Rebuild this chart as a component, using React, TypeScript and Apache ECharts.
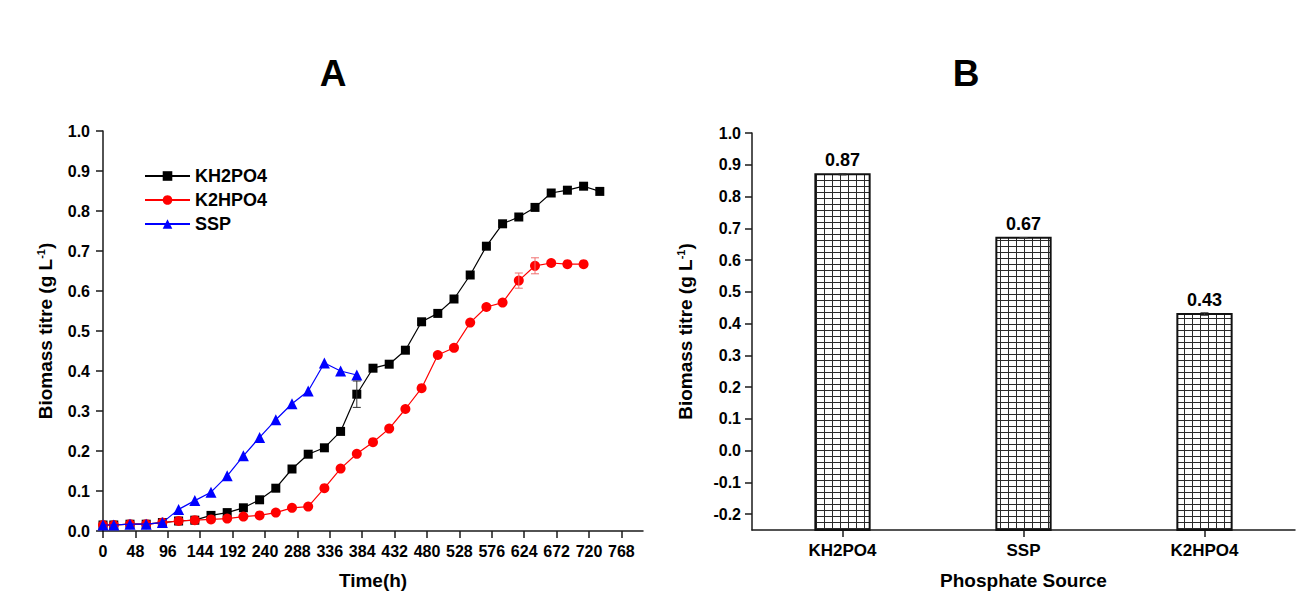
import { useEffect, useRef } from 'react';
import * as echarts from 'echarts';

// ---- Panel A: biomass titre over time ----
const hoursKH = [0, 16, 40, 64, 88, 112, 136, 160, 184, 208, 232, 256, 280, 304, 328, 352, 376, 400, 424, 448, 472, 496, 520, 544, 568, 592, 616, 640, 664, 688, 712, 736];
const valuesKH = [0.015, 0.015, 0.017, 0.017, 0.021, 0.025, 0.027, 0.039, 0.046, 0.058, 0.078, 0.107, 0.155, 0.192, 0.208, 0.249, 0.342, 0.407, 0.417, 0.452, 0.523, 0.544, 0.580, 0.640, 0.712, 0.768, 0.785, 0.809, 0.845, 0.852, 0.862, 0.849];

const hoursK2 = [0, 16, 40, 64, 88, 112, 136, 160, 184, 208, 232, 256, 280, 304, 328, 352, 376, 400, 424, 448, 472, 496, 520, 544, 568, 592, 616, 640, 664, 688, 712];
const valuesK2 = [0.015, 0.015, 0.017, 0.017, 0.021, 0.025, 0.027, 0.029, 0.031, 0.036, 0.039, 0.046, 0.058, 0.061, 0.107, 0.156, 0.193, 0.222, 0.256, 0.305, 0.357, 0.440, 0.458, 0.521, 0.560, 0.571, 0.626, 0.663, 0.670, 0.667, 0.667];

const hoursSSP = [0, 16, 40, 64, 88, 112, 136, 160, 184, 208, 232, 256, 280, 304, 328, 352, 376];
const valuesSSP = [0.015, 0.015, 0.017, 0.017, 0.021, 0.054, 0.076, 0.097, 0.138, 0.188, 0.234, 0.278, 0.318, 0.350, 0.420, 0.400, 0.390];

// standard deviations shown as error bars (hour, deviation)
const errHoursKH = [376];
const errValuesKH = [0.033];
const errHoursK2 = [616, 640];
const errValuesK2 = [0.019, 0.02];

const xTicksA = [0, 48, 96, 144, 192, 240, 288, 336, 384, 432, 480, 528, 576, 624, 672, 720, 768];

// ---- Panel B: final biomass per phosphate source ----
const sources = ['KH2PO4', 'SSP', 'K2HPO4'];
const finalBiomass = [0.87, 0.67, 0.43];
const finalErr = [0.002, 0.001, 0.004];
const yTicksB = [-0.2, -0.1, 0.0, 0.1, 0.2, 0.3, 0.4, 0.5, 0.6, 0.7, 0.8, 0.9, 1.0];
const yMinB = -0.25;

const FONT = 'Arial, "Liberation Sans", Helvetica, sans-serif';
const AXIS_COLOR = '#1a1a1a';

function gridPattern(): HTMLCanvasElement {
  const c = document.createElement('canvas');
  c.width = 8;
  c.height = 6;
  const ctx = c.getContext('2d')!;
  ctx.fillStyle = '#ffffff';
  ctx.fillRect(0, 0, 8, 6);
  ctx.fillStyle = '#2a2a2a';
  ctx.fillRect(0, 0, 8, 1);
  ctx.fillRect(0, 0, 1, 6);
  return c;
}

function pairs(xs: number[], ys: number[]) {
  return xs.map((x, i) => [x, ys[i]]);
}

function errData(errHours: number[], errVals: number[], hours: number[], vals: number[]) {
  return errHours.map((h, i) => [h, vals[hours.indexOf(h)], errVals[i]]);
}

function errorBarSeries(name: string, data: number[][], color: string) {
  return {
    type: 'custom',
    name,
    xAxisIndex: 0,
    yAxisIndex: 0,
    z: 5,
    silent: true,
    data,
    renderItem: (_p: any, api: any) => {
      const x = api.value(0);
      const m = api.value(1);
      const e = api.value(2);
      const top = api.coord([x, m + e]);
      const bot = api.coord([x, m - e]);
      const half = 4;
      const style = { stroke: color, lineWidth: 1 };
      return {
        type: 'group',
        children: [
          { type: 'line', shape: { x1: top[0], y1: top[1], x2: bot[0], y2: bot[1] }, style },
          { type: 'line', shape: { x1: top[0] - half, y1: top[1], x2: top[0] + half, y2: top[1] }, style },
          { type: 'line', shape: { x1: bot[0] - half, y1: bot[1], x2: bot[0] + half, y2: bot[1] }, style },
        ],
      };
    },
  };
}

const axisLineStyle = { show: true, onZero: false, lineStyle: { color: AXIS_COLOR, width: 1.5 } };
const axisTickStyle = { show: true, length: 7, lineStyle: { color: AXIS_COLOR, width: 1.5 } };
const labelStyle = { color: '#000', fontFamily: FONT, fontWeight: 'bold' as const, fontSize: 16 };
const nameStyle = {
  color: '#000',
  fontFamily: FONT,
  fontWeight: 'bold' as const,
  fontSize: 19,
  rich: {
    sup: { fontFamily: FONT, fontWeight: 'bold' as const, fontSize: 11, color: '#000', verticalAlign: 'top' as const, padding: [0, 0, 9, 0] },
  },
};

export default function App() {
  const ref = useRef<HTMLDivElement>(null);

  useEffect(() => {
    if (!ref.current) return;
    const chart = echarts.init(ref.current, undefined, { renderer: 'svg' });
    const pattern = gridPattern();

    const option: any = {
      animation: false,
      backgroundColor: '#ffffff',
      graphic: [
        { type: 'text', x: 333, y: 73, style: { text: 'A', font: `bold 37px ${FONT}`, fill: '#000', align: 'center', verticalAlign: 'middle' } },
        { type: 'text', x: 966, y: 73, style: { text: 'B', font: `bold 37px ${FONT}`, fill: '#000', align: 'center', verticalAlign: 'middle' } },
      ],
      legend: {
        data: ['KH2PO4', 'K2HPO4', 'SSP'],
        orient: 'vertical',
        left: 144,
        top: 167,
        padding: 0,
        itemWidth: 45,
        itemHeight: 12,
        itemGap: 6,
        selectedMode: false,
        textStyle: { color: '#000', fontFamily: FONT, fontWeight: 'bold', fontSize: 18 },
      },
      grid: [
        { left: 103, top: 131, width: 540, height: 400, containLabel: false },
        { left: 752, top: 133, width: 543, height: 398, containLabel: false },
      ],
      xAxis: [
        {
          type: 'value',
          gridIndex: 0,
          min: 0,
          max: 800,
          interval: 48,
          name: 'Time(h)',
          nameLocation: 'middle',
          nameGap: 40,
          nameTextStyle: nameStyle,
          axisLine: axisLineStyle,
          axisTick: { ...axisTickStyle, customValues: xTicksA },
          axisLabel: { ...labelStyle, margin: 12, customValues: xTicksA },
          splitLine: { show: false },
        },
        {
          type: 'category',
          gridIndex: 1,
          data: sources,
          boundaryGap: true,
          name: 'Phosphate Source',
          nameLocation: 'middle',
          nameGap: 41,
          nameTextStyle: nameStyle,
          axisLine: axisLineStyle,
          axisTick: { ...axisTickStyle, alignWithLabel: true },
          axisLabel: { ...labelStyle, fontSize: 17, margin: 12 },
          splitLine: { show: false },
        },
      ],
      yAxis: [
        {
          type: 'value',
          gridIndex: 0,
          min: 0,
          max: 1.0,
          interval: 0.1,
          name: 'Biomass titre (g L{sup|-1})',
          nameLocation: 'middle',
          nameGap: 48,
          nameTextStyle: nameStyle,
          axisLine: axisLineStyle,
          axisTick: axisTickStyle,
          axisLabel: { ...labelStyle, margin: 13, formatter: (v: number) => v.toFixed(1) },
          splitLine: { show: false },
        },
        {
          type: 'value',
          gridIndex: 1,
          min: yMinB,
          max: 1.0,
          name: 'Biomass titre (g L{sup|-1})',
          nameLocation: 'middle',
          nameGap: 57,
          nameTextStyle: nameStyle,
          axisLine: axisLineStyle,
          axisTick: { ...axisTickStyle, customValues: yTicksB },
          axisLabel: { ...labelStyle, margin: 11, customValues: yTicksB, formatter: (v: number) => (Math.abs(v) < 1e-9 ? '0.0' : v.toFixed(1)) },
          splitLine: { show: false },
        },
      ],
      series: [
        {
          type: 'line',
          name: 'KH2PO4',
          xAxisIndex: 0,
          yAxisIndex: 0,
          data: pairs(hoursKH, valuesKH),
          symbol: 'rect',
          symbolSize: 9,
          itemStyle: { color: '#000000' },
          lineStyle: { color: '#000000', width: 1.2 },
          z: 2,
        },
        {
          type: 'line',
          name: 'K2HPO4',
          xAxisIndex: 0,
          yAxisIndex: 0,
          data: pairs(hoursK2, valuesK2),
          symbol: 'circle',
          symbolSize: 10,
          itemStyle: { color: '#ff0000' },
          lineStyle: { color: '#ff0000', width: 1.2 },
          z: 3,
        },
        {
          type: 'line',
          name: 'SSP',
          xAxisIndex: 0,
          yAxisIndex: 0,
          data: pairs(hoursSSP, valuesSSP),
          symbol: 'triangle',
          symbolSize: 11,
          itemStyle: { color: '#0000ff' },
          lineStyle: { color: '#0000ff', width: 1.2 },
          z: 4,
        },
        errorBarSeries('KH2PO4 sd', errData(errHoursKH, errValuesKH, hoursKH, valuesKH), '#333333'),
        errorBarSeries('K2HPO4 sd', errData(errHoursK2, errValuesK2, hoursK2, valuesK2), '#f07070'),
        {
          type: 'custom',
          name: 'Final biomass',
          xAxisIndex: 1,
          yAxisIndex: 1,
          silent: true,
          data: sources.map((_, i) => [i, finalBiomass[i], finalErr[i]]),
          renderItem: (_p: any, api: any) => {
            const idx = api.value(0);
            const v = api.value(1);
            const e = api.value(2);
            const top = api.coord([idx, v]);
            const base = api.coord([idx, yMinB]);
            const bw = api.size([1, 0])[0] * 0.3;
            const eTop = api.coord([idx, v + e]);
            const eBot = api.coord([idx, v - e]);
            return {
              type: 'group',
              children: [
                {
                  type: 'rect',
                  shape: { x: top[0] - bw / 2, y: top[1], width: bw, height: base[1] - top[1] },
                  style: { fill: { image: pattern, repeat: 'repeat' }, stroke: '#111111', lineWidth: 2 },
                },
                { type: 'line', shape: { x1: eTop[0], y1: eTop[1], x2: eBot[0], y2: eBot[1] }, style: { stroke: '#333', lineWidth: 1 } },
                { type: 'line', shape: { x1: eTop[0] - 4, y1: eTop[1], x2: eTop[0] + 4, y2: eTop[1] }, style: { stroke: '#333', lineWidth: 1 } },
                { type: 'line', shape: { x1: eBot[0] - 4, y1: eBot[1], x2: eBot[0] + 4, y2: eBot[1] }, style: { stroke: '#333', lineWidth: 1 } },
                {
                  type: 'text',
                  x: top[0],
                  y: top[1] - 5,
                  style: { text: v.toFixed(2), font: `bold 18px ${FONT}`, fill: '#000', align: 'center', verticalAlign: 'bottom' },
                },
              ],
            };
          },
        },
      ],
    };

    chart.setOption(option);
    return () => chart.dispose();
  }, []);

  return (
    <div
      ref={ref}
      style={{ position: 'fixed', left: 0, top: 0, width: 1314, height: 595, background: '#fff' }}
    />
  );
}
